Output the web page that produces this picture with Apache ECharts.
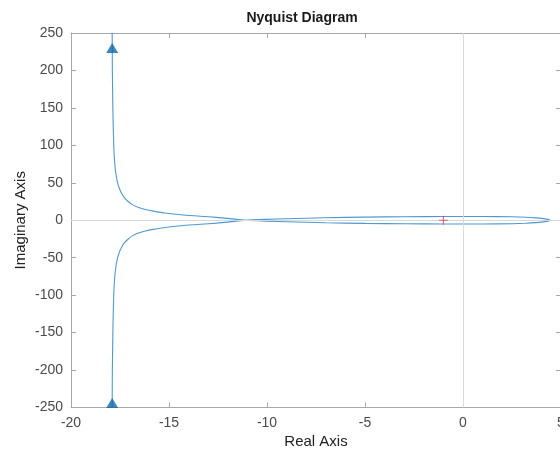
<!DOCTYPE html>
<html>
<head>
<meta charset="utf-8">
<script src="https://cdn.jsdelivr.net/npm/echarts@6/dist/echarts.min.js"></script>
<style>html,body{margin:0;padding:0;background:#fff;}#c{width:560px;height:451px;}</style>
</head>
<body>
<div id="c"></div>
<script>
// Nyquist curve: real and imaginary parts in drawing order
const curveRe = [-17.9, -17.89, -17.87, -17.85, -17.82, -17.78, -17.72, -17.64, -17.54, -17.42, -17.27, -17.08, -16.85, -16.55, -16.2, -15.8, -15.2, -14.27, -13.4, -12.57, -11.9, -11.1,
  -10, -9, -7, -5, -3, -1, 1, 2.5, 3.2, 3.7, 4.1, 4.35, 4.45,
  4.35, 4.1, 3.7, 3.2, 2.5, 1, -1, -3, -5, -7, -9, -10,
  -11.1, -11.9, -12.57, -13.4, -14.27, -15.2, -15.8, -16.2, -16.55, -16.85, -17.08, -17.27, -17.42, -17.54, -17.64, -17.72, -17.78, -17.82, -17.85, -17.87, -17.89, -17.9];
const curveIm = [250, 200, 160, 130, 100, 80, 64, 52, 43, 36, 30, 25, 20.5, 17, 14.3, 12.2, 9.6, 7.0, 5.3, 3.9, 2.2, 0,
  -1.2, -2.0, -3.3, -4.2, -4.7, -5.0, -5.0, -4.6, -4.0, -3.2, -2.2, -1.2, 0,
  1.2, 2.2, 3.2, 4.0, 4.6, 5.0, 5.0, 4.7, 4.2, 3.3, 2.0, 1.2,
  0, -2.2, -3.9, -5.3, -7.0, -9.6, -12.2, -14.3, -17, -20.5, -25, -30, -36, -43, -52, -64, -80, -100, -130, -160, -200, -250];
// direction arrows
const arrowRe = [-17.9, -17.9];
const arrowIm = [230, -244];
// critical point
const critRe = [-1];
const critIm = [0];
// ticks
const xTicks = {min: -20, max: 5, interval: 5};
const yTicks = {min: -250, max: 250, interval: 50};

const curve = curveRe.map((r, i) => [r, curveIm[i]]);
const arrows = arrowRe.map((r, i) => [r, arrowIm[i]]);
const crit = critRe.map((r, i) => [r, critIm[i]]);

const txt = '#4a4a4a';
const axc = '#a8a8a8';
const font = 'Liberation Sans, Arial, Helvetica, sans-serif';

const chart = echarts.init(document.getElementById('c'), null, {renderer: 'canvas'});
chart.setOption({
  animation: false,
  backgroundColor: '#fff',
  grid: {left: 71, top: 33, width: 490, height: 374.5, containLabel: false, outerBoundsMode: 'none'},
  graphic: [{
    type: 'text', x: 302, y: 18,
    style: {text: 'Nyquist Diagram', fill: '#1a1a1a', font: 'bold 14px ' + font, align: 'center', verticalAlign: 'middle'}
  }],
  xAxis: [{
    type: 'value', min: xTicks.min, max: xTicks.max, interval: xTicks.interval,
    name: 'Real Axis', nameLocation: 'middle', nameGap: 27, nameMoveOverlap: false,
    nameTextStyle: {color: '#222', fontSize: 15, fontFamily: font},
    axisLine: {show: true, onZero: false, lineStyle: {color: axc, width: 1}},
    axisTick: {show: true, inside: true, length: 5, lineStyle: {color: axc}},
    axisLabel: {color: txt, fontSize: 14, fontFamily: font, margin: 9, hideOverlap: false},
    splitLine: {show: false}
  }, {
    type: 'value', position: 'top', min: xTicks.min, max: xTicks.max, interval: xTicks.interval,
    axisLine: {show: true, onZero: false, lineStyle: {color: axc, width: 1}},
    axisTick: {show: true, inside: true, length: 5, lineStyle: {color: axc}},
    axisLabel: {show: false}, splitLine: {show: false}
  }],
  yAxis: [{
    type: 'value', min: yTicks.min, max: yTicks.max, interval: yTicks.interval,
    name: 'Imaginary Axis', nameLocation: 'middle', nameGap: 43, nameMoveOverlap: false,
    nameTextStyle: {color: '#222', fontSize: 15, fontFamily: font},
    axisLine: {show: true, onZero: false, lineStyle: {color: axc, width: 1}},
    axisTick: {show: true, inside: true, length: 5, lineStyle: {color: axc}},
    axisLabel: {color: txt, fontSize: 14, fontFamily: font, margin: 8},
    splitLine: {show: false}
  }, {
    type: 'value', position: 'right', min: yTicks.min, max: yTicks.max, interval: yTicks.interval,
    axisLine: {show: true, onZero: false, lineStyle: {color: axc, width: 1}},
    axisTick: {show: true, inside: true, length: 5, lineStyle: {color: axc}},
    axisLabel: {show: false}, splitLine: {show: false}
  }],
  series: [{
    type: 'line', data: [], silent: true,
    markLine: {
      silent: true, symbol: ['none', 'none'], label: {show: false},
      lineStyle: {color: '#dadada', width: 1, type: 'solid'},
      data: [{xAxis: 0}, {yAxis: 0}]
    }
  }, {
    type: 'line', data: curve, showSymbol: false, smooth: 0.2,
    lineStyle: {color: '#4f98d0', width: 1.1}, z: 3
  }, {
    type: 'scatter', data: arrows, symbol: 'triangle', symbolSize: [12, 10],
    itemStyle: {color: '#0b66ad'}, z: 4
  }, {
    type: 'scatter', data: crit,
    symbol: 'path://M4.4,0 L5.6,0 L5.6,4.4 L10,4.4 L10,5.6 L5.6,5.6 L5.6,10 L4.4,10 L4.4,5.6 L0,5.6 L0,4.4 L4.4,4.4 Z',
    symbolSize: 9, itemStyle: {color: '#e03a5c'}, z: 5
  }]
});
</script>
</body>
</html>
